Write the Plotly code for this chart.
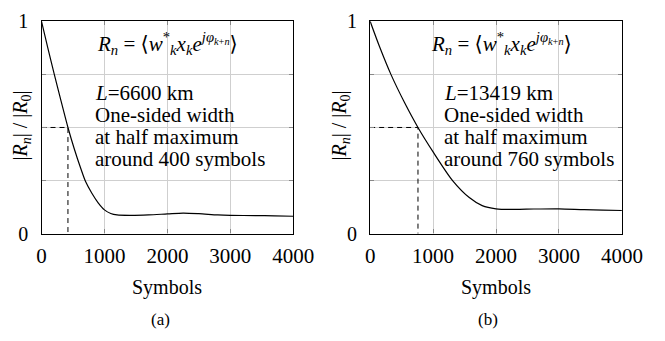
import plotly.graph_objects as go

# ---- data ----
sym_a = [0, 100, 203, 310, 420, 520, 620, 700, 800, 900, 1000, 1100, 1200, 1400,
         1700, 2000, 2250, 2500, 2800, 3000, 3400, 3700, 4000]
r_a = [1.0, 0.875, 0.75, 0.625, 0.50, 0.40, 0.31, 0.245, 0.19, 0.145, 0.112, 0.095, 0.088, 0.086,
       0.088, 0.093, 0.097, 0.094, 0.088, 0.086, 0.085, 0.084, 0.082]

sym_b = [0, 150, 330, 550, 760, 1000, 1310, 1575, 1780, 2000, 2300, 2600, 3000, 3400, 3700, 4000]
r_b = [1.0, 0.88, 0.75, 0.615, 0.50, 0.385, 0.25, 0.17, 0.132, 0.117, 0.114, 0.116, 0.117,
       0.113, 0.111, 0.109]

half_a = 420
half_b = 760
half_level = 0.5

x_ticks = [0, 1000, 2000, 3000, 4000]
y_ticks = [0, 1]
x_title = "Symbols"
y_title = "|<i>R<sub>n</sub></i>| / |<i>R</i><sub>0</sub>|"
LB = '<span style="font-family:DejaVu Sans">⟨</span>'
RB = '<span style="font-family:DejaVu Sans">⟩</span>'
eq_text = ("<i>R<sub>n</sub></i> = " + LB + "<i>w</i><sup>*</sup><sub><i>k</i></sub><i>x<sub>k</sub>e</i>"
           "<sup><i>jφ</i></sup><sup><sub><i>k</i>+<i>n</i></sub></sup>" + RB)
info_a = ["<i>L</i>=6600 km", "One-sided width", "at half maximum", "around 400 symbols"]
info_b = ["<i>L</i>=13419 km", "One-sided width", "at half maximum", "around 760 symbols"]
labels = ["(a)", "(b)"]

W, H = 665, 341
FONT = "Liberation Serif"

fig = go.Figure()

panels = [
    (sym_a, r_a, half_a, "x", "y"),
    (sym_b, r_b, half_b, "x2", "y2"),
]
for xs, ys, hx, xa, ya in panels:
    fig.add_trace(go.Scatter(x=xs, y=ys, mode="lines",
                             line=dict(color="black", width=1.2, shape="spline", smoothing=0.8),
                             xaxis=xa, yaxis=ya, showlegend=False, hoverinfo="skip"))
    fig.add_trace(go.Scatter(x=[0, hx, hx], y=[half_level, half_level, 0], mode="lines",
                             line=dict(color="black", width=1, dash="5px,4px"),
                             xaxis=xa, yaxis=ya, showlegend=False, hoverinfo="skip"))

PT, PB = 11, 238
ydom = [1 - PB / H, 1 - PT / H]
xdoms = [[38 / W, 300 / W], [380 / W, 642 / W]]

for i in range(2):
    sfx = "" if i == 0 else "2"
    xd = dict(domain=xdoms[i], range=[0, 4000], tickvals=x_ticks, anchor="y" + sfx,
              showline=True, linecolor="black", linewidth=1.4, mirror="ticks",
              ticks="inside", ticklen=4, tickcolor="#888888", tickwidth=1,
              showgrid=True, gridcolor="#cfcfcf", gridwidth=1, zeroline=False,
              tickfont=dict(family=FONT, size=21, color="black"), ticklabelstandoff=3)
    yd = dict(domain=ydom, range=[0, 1], tickvals=y_ticks, anchor="x" + sfx,
              showline=True, linecolor="black", linewidth=1.4, mirror="ticks",
              ticks="inside", ticklen=4, tickcolor="#888888", tickwidth=1,
              showgrid=True, gridcolor="#cfcfcf", gridwidth=1, zeroline=False,
              tickfont=dict(family=FONT, size=20, color="black"), ticklabelstandoff=8,
              minor=dict(dtick=0.25, tick0=0, showgrid=True, gridcolor="#cfcfcf", gridwidth=1,
                         ticks="inside", ticklen=4, tickcolor="#888888"))
    fig.update_layout(**{"xaxis" + sfx: xd, "yaxis" + sfx: yd})


def py2y(p):
    return (PB - p) / (PB - PT)


annots = []
line_px = [88, 111, 135, 158]
for i in range(2):
    x0, x1 = xdoms[i]
    cx = (x0 + x1) / 2
    xa = "x" if i == 0 else "x2"
    ya = "y" if i == 0 else "y2"
    annots.append(dict(x=2000 if i == 0 else 2090, y=py2y(35), xref=xa, yref=ya, text=eq_text, showarrow=False,
                       font=dict(family=FONT, size=21, color="black"), xanchor="center", yanchor="middle"))
    lines = info_a if i == 0 else info_b
    for ln, p in zip(lines, line_px):
        annots.append(dict(x=823 if i == 0 else 1139, y=py2y(p), xref=xa, yref=ya, text=ln,
                           showarrow=False, align="left", xanchor="left", yanchor="middle",
                           font=dict(family=FONT, size=21, color="black")))
    annots.append(dict(x=cx, y=1 - 296 / H, xref="paper", yref="paper", text=x_title, showarrow=False,
                       font=dict(family=FONT, size=20, color="black"), xanchor="center", yanchor="middle"))
    annots.append(dict(x=(162 if i == 0 else 503) / W, y=1 - 330 / H, xref="paper", yref="paper", text=labels[i],
                       showarrow=False, font=dict(family=FONT, size=17, color="black"),
                       xanchor="center", yanchor="middle"))
    annots.append(dict(x=(17 if i == 0 else 349) / W, y=1 - 122 / H, xref="paper", yref="paper", text=y_title,
                       showarrow=False, textangle=-90, font=dict(family=FONT, size=20, color="black"),
                       xanchor="center", yanchor="middle"))

fig.update_layout(width=W, height=H, margin=dict(l=0, r=0, t=0, b=0),
                  paper_bgcolor="white", plot_bgcolor="white", annotations=annots,
                  font=dict(family=FONT, color="black"))

fig.write_html("out.html")
